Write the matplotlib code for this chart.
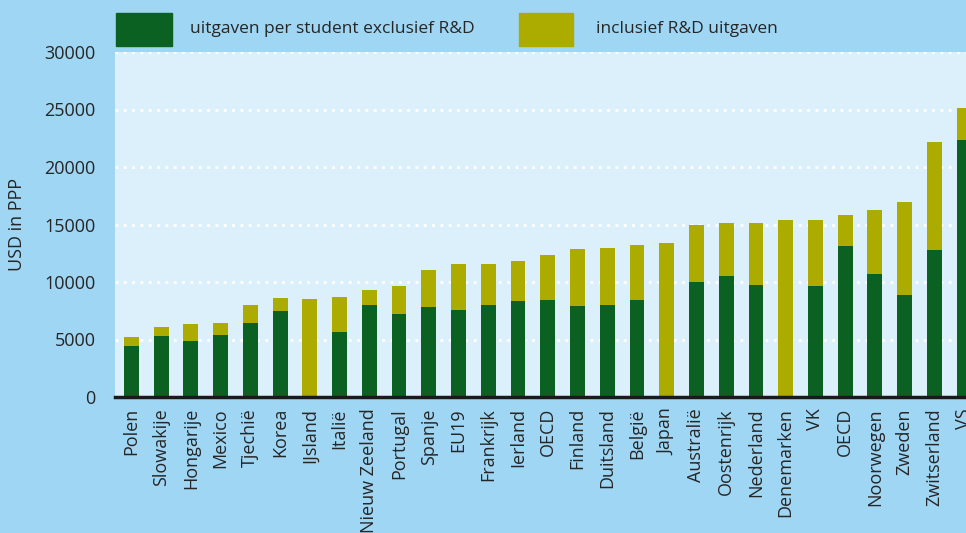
import matplotlib
matplotlib.use("Agg")
import matplotlib.pyplot as plt
from matplotlib.patches import Rectangle

plt.rcParams['font.family'] = ['Open Sans', 'DejaVu Sans']

landen = ["Polen", "Slowakije", "Hongarije", "Mexico", "Tjechië", "Korea", "IJsland",
          "Italië", "Nieuw Zeeland", "Portugal", "Spanje", "EU19", "Frankrijk", "Ierland",
          "OECD", "Finland", "Duitsland", "België", "Japan", "Australië", "Oostenrijk",
          "Nederland", "Denemarken", "VK", "OECD", "Noorwegen", "Zweden", "Zwitserland", "VS"]
# uitgaven per student exclusief R&D
excl_rd = [4450, 5300, 4880, 5400, 6450, 7500, 0,
           5660, 8010, 7230, 7840, 7580, 8010, 8360,
           8450, 7930, 8010, 8450, 0, 10000, 10540,
           9760, 0, 9670, 13150, 10710, 8880, 12800, 22390]
# totaal inclusief R&D
totaal = [5230, 6100, 6360, 6450, 8000, 8620, 8540,
          8710, 9320, 9670, 11060, 11580, 11580, 11850,
          12370, 12890, 12980, 13240, 13400, 14980, 15160,
          15160, 15420, 15420, 15850, 16290, 16990, 22210, 25170]
rd_deel = [t - e for t, e in zip(totaal, excl_rd)]

groen = '#0b6122'
olijf = '#abab00'
buiten = '#9fd6f4'
binnen = '#dcf0fb'
tekst = '#262626'

fig = plt.figure(figsize=(9.66, 5.33), dpi=100, facecolor=buiten)
ax = fig.add_axes([115 / 966, 136 / 533, 864 / 966, 345 / 533])
ax.set_facecolor(binnen)

x = list(range(len(landen)))
ax.bar(x, excl_rd, width=0.5, color=groen, zorder=3)
ax.bar(x, rd_deel, width=0.5, bottom=excl_rd, color=olijf, zorder=3)

ax.set_xlim(-0.55, 28.5)
ax.set_ylim(0, 30000)
ax.set_yticks(range(0, 30001, 5000))
ax.set_yticklabels([str(v) for v in range(0, 30001, 5000)])
ax.set_xticks(x)
ax.set_xticklabels(landen, rotation=90)
ax.tick_params(axis='both', length=0, labelsize=13, labelcolor=tekst)
ax.tick_params(axis='y', pad=14)
ax.tick_params(axis='x', pad=8)

ax.grid(axis='y', color='white', linestyle=(0, (1, 2)), linewidth=2, zorder=1)
for s in ['top', 'right', 'left']:
    ax.spines[s].set_visible(False)
ax.spines['bottom'].set_color('#1a1a1a')
ax.spines['bottom'].set_linewidth(2.5)
ax.spines['bottom'].set_zorder(4)

ax.set_ylabel('USD in PPP', fontsize=13, color=tekst)
ax.yaxis.set_label_coords(-0.103, 0.5)

# legenda bovenaan
fig.patches.append(Rectangle((116 / 966, 1 - 46 / 533), 56 / 966, 33 / 533,
                             transform=fig.transFigure, color=groen))
fig.text(190 / 966, 1 - 29 / 533, 'uitgaven per student exclusief R&D',
         va='center', ha='left', fontsize=12.5, color=tekst)
fig.patches.append(Rectangle((519 / 966, 1 - 46 / 533), 54 / 966, 33 / 533,
                             transform=fig.transFigure, color=olijf))
fig.text(596 / 966, 1 - 29 / 533, 'inclusief R&D uitgaven',
         va='center', ha='left', fontsize=12.5, color=tekst)

fig.savefig('out.png', dpi=100, facecolor=buiten)
